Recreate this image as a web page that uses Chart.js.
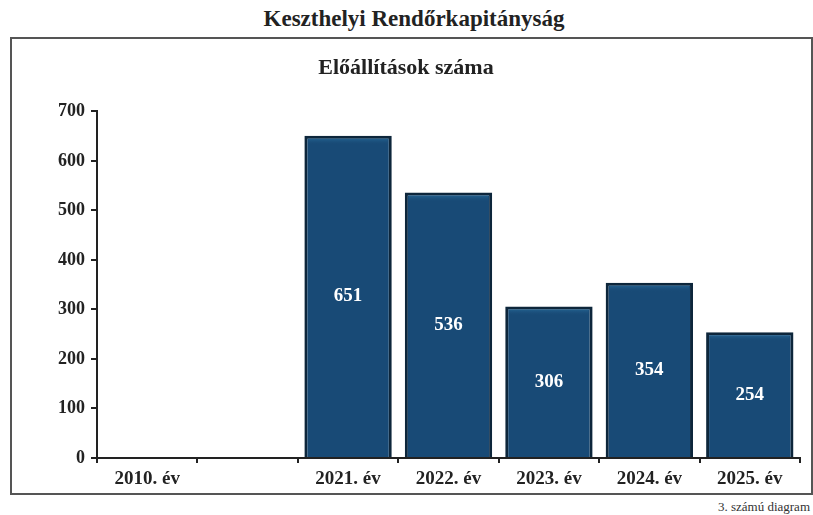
<!DOCTYPE html>
<html>
<head>
<meta charset="utf-8">
<script src="https://cdn.jsdelivr.net/npm/chart.js@4"></script>
<style>
  html, body { margin: 0; padding: 0; background: #fff; }
  body { width: 813px; height: 515px; position: relative; overflow: hidden;
         font-family: "Liberation Serif", "Times New Roman", serif; }
  #title { position: absolute; left: 0; top: 6px; width: 828px; text-align: center;
           font-weight: bold; font-size: 23px; color: #222; }
  #box { position: absolute; left: 10px; top: 37px; width: 803px; height: 458px;
         border: 2px solid #555; box-sizing: border-box; }
  #note { position: absolute; right: 3px; top: 499px; font-size: 13px; color: #333; }
  canvas { display: block; }
</style>
</head>
<body>
<div id="title">Keszthelyi Rendőrkapitányság</div>
<div id="box"><canvas id="chart" width="799" height="454"></canvas></div>
<div id="note">3. számú diagram</div>
<script>
// adatok
const categories = ["2010. év", "", "2021. év", "2022. év", "2023. év", "2024. év", "2025. év"];
const values = [null, null, 651, 536, 306, 354, 254];
const yTicks = [0, 100, 200, 300, 400, 500, 600, 700];
const chartTitle = "Előállítások száma";

const SERIF = "'Liberation Serif', 'Times New Roman', serif";

// felső világosabb él + érték a hasáb közepén
const bevelLabels = {
  id: "bevelLabels",
  afterDatasetsDraw(chart) {
    const { ctx } = chart;
    const meta = chart.getDatasetMeta(0);
    ctx.save();
    meta.data.forEach((bar, i) => {
      const v = values[i];
      if (v == null) return;
      const left = bar.x - bar.width / 2;
      const w = bar.width;
      const top = bar.y;
      // világos felső sáv
      const g = ctx.createLinearGradient(0, top, 0, top + 9);
      g.addColorStop(0, "#2f7aab");
      g.addColorStop(1, "rgba(25,75,118,0)");
      ctx.fillStyle = g;
      ctx.fillRect(left + 4, top + 3, w - 8, 7);
      ctx.fillStyle = "#fff";
      ctx.font = "bold 19px " + SERIF;
      ctx.textAlign = "center";
      ctx.textBaseline = "middle";
      ctx.fillText(String(v), bar.x, (bar.y + bar.base) / 2);
    });
    ctx.restore();
  },
};

new Chart(document.getElementById("chart"), {
  type: "bar",
  data: {
    labels: categories,
    datasets: [
      {
        data: values,
        backgroundColor: "#184a76",
        borderColor: "#0d263b",
        borderWidth: 3,
        barPercentage: 0.87,
        categoryPercentage: 1,
      },
    ],
  },
  options: {
    responsive: false,
    animation: false,
    layout: { padding: { left: 0, right: 11, top: 0, bottom: 0 } },
    plugins: {
      legend: { display: false },
      tooltip: { enabled: false },
      title: {
        display: true,
        text: chartTitle,
        color: "#222",
        font: { family: SERIF, size: 22, weight: "bold" },
        padding: { top: 16, bottom: 30 },
      },
    },
    scales: {
      x: {
        afterFit: (s) => { s.height = 35; },
        grid: { drawOnChartArea: false, tickLength: 5, color: "#222", lineWidth: 2 },
        border: { color: "#222", width: 2 },
        ticks: { color: "#222", font: { family: SERIF, size: 19, weight: "bold" }, padding: 5, maxRotation: 0 },
      },
      y: {
        min: 0,
        max: 700,
        afterFit: (s) => { s.width = 85; },
        afterBuildTicks: (s) => { s.ticks = yTicks.map((v) => ({ value: v })); },
        grid: { drawOnChartArea: false, tickLength: 6, color: "#222", lineWidth: 2 },
        border: { color: "#222", width: 2 },
        ticks: { color: "#222", font: { family: SERIF, size: 18, weight: "bold" }, padding: 6 },
      },
    },
  },
  plugins: [bevelLabels],
});
</script>
</body>
</html>
